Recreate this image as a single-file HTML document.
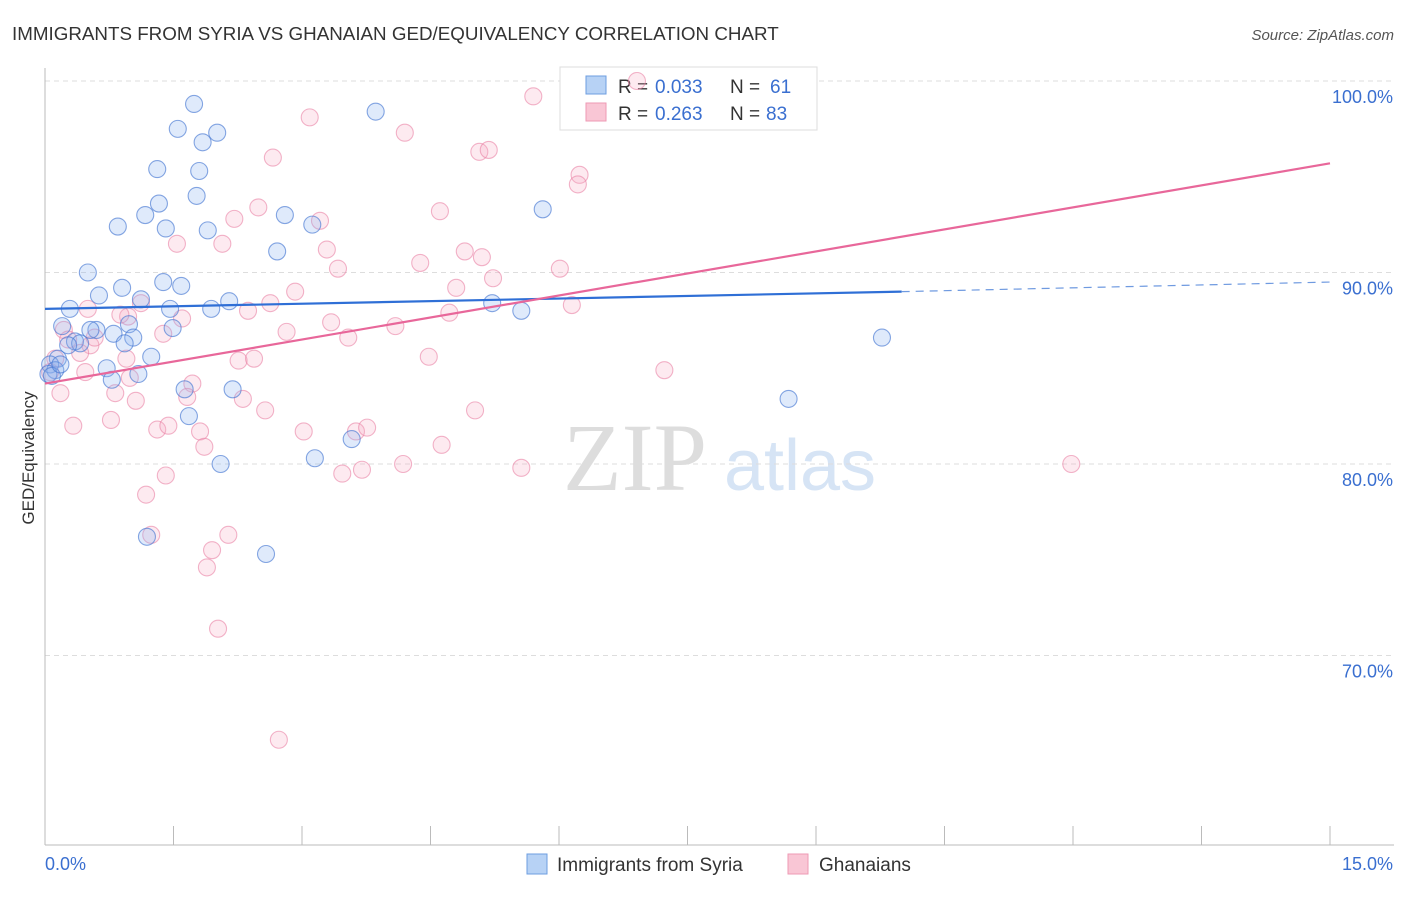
<!DOCTYPE html>
<html><head><meta charset="utf-8"><style>
body{margin:0;background:#fff;font-family:"Liberation Sans",sans-serif}
</style></head><body>
<svg id="chart" width="1406" height="892" xmlns="http://www.w3.org/2000/svg" style="font-family:'Liberation Sans',sans-serif">
<text x="12" y="40" font-size="18.8" fill="#333">IMMIGRANTS FROM SYRIA VS GHANAIAN GED/EQUIVALENCY CORRELATION CHART</text>
<text x="1394" y="40" font-size="15" fill="#555" text-anchor="end" font-style="italic">Source: ZipAtlas.com</text>
<text transform="translate(34,458) rotate(-90)" font-size="17" fill="#333" text-anchor="middle">GED/Equivalency</text>
<g>
<text x="635" y="490" font-size="96" fill="#ddd" font-family="Liberation Serif" text-anchor="middle">ZIP</text>
<text x="800" y="490" font-size="72" fill="#d6e4f5" text-anchor="middle">atlas</text>
</g>
<g id="grid"></g>
<g>
<rect x="560" y="67" width="257" height="63" fill="#fff" stroke="#ddd"/>
<rect x="586" y="76" width="20" height="18" fill="#b7d2f5" stroke="#6d9ee0"/>
<rect x="586" y="103" width="20" height="18" fill="#f9c6d5" stroke="#ee9ab4"/>
<text x="618" y="93" font-size="19" fill="#333">R =</text>
<text x="655" y="93" font-size="19" fill="#3a6fd0">0.033</text>
<text x="730" y="93" font-size="19" fill="#333">N =</text>
<text x="770" y="93" font-size="19" fill="#3a6fd0">61</text>
<text x="618" y="120" font-size="19" fill="#333">R =</text>
<text x="655" y="120" font-size="19" fill="#3a6fd0">0.263</text>
<text x="730" y="120" font-size="19" fill="#333">N =</text>
<text x="766" y="120" font-size="19" fill="#3a6fd0">83</text>
</g>
<g id="marks"></g><g id="lines"></g>
<g>
<rect x="527" y="854" width="20" height="20" fill="#b7d2f5" stroke="#6d9ee0"/>
<text x="557" y="871" font-size="19" fill="#333">Immigrants from Syria</text>
<rect x="788" y="854" width="20" height="20" fill="#f9c6d5" stroke="#ee9ab4"/>
<text x="819" y="871" font-size="19" fill="#333">Ghanaians</text>
</g>
</svg>
<script>
const yTicks=[100,90,80,70];
const yTickLabels=["100.0%","90.0%","80.0%","70.0%"];
const xEndLabels=["0.0%","15.0%"];
const syriaX=[1.74,1.55,2.01,1.84,1.31,1.80,1.33,1.77,1.17,0.85,1.41,1.90,2.80,3.12,2.71,3.86,5.81,0.50,1.38,1.59,0.90,0.63,1.12,0.29,1.46,1.94,2.15,5.22,5.56,0.20,0.60,0.98,0.80,1.03,1.49,0.35,0.41,0.93,1.24,0.15,0.06,0.12,0.04,0.08,0.72,0.78,1.09,1.63,2.19,1.68,3.58,3.15,2.05,1.19,2.58,9.77,8.68,0.18,0.53,0.27];
const syriaY=[98.8,97.5,97.3,96.8,95.4,95.3,93.6,94.0,93.0,92.4,92.3,92.2,93.0,92.5,91.1,98.4,93.3,90.0,89.5,89.3,89.2,88.8,88.6,88.1,88.1,88.1,88.5,88.4,88.0,87.2,87.0,87.3,86.8,86.6,87.1,86.4,86.3,86.3,85.6,85.5,85.2,84.9,84.7,84.6,85.0,84.4,84.7,83.9,83.9,82.5,81.3,80.3,80.0,76.2,75.3,86.6,83.4,85.2,87.0,86.2];
const ghX=[6.91,5.70,3.09,4.20,2.66,5.07,5.18,6.24,6.22,4.61,2.49,2.21,3.21,1.54,2.07,3.29,4.90,5.10,4.38,3.42,6.01,5.23,2.92,4.80,1.12,0.50,0.97,1.60,2.37,2.63,6.15,4.72,3.34,4.09,2.82,3.54,0.22,0.27,0.53,0.58,0.41,0.95,1.38,2.26,2.44,4.48,7.23,0.99,1.72,1.66,2.31,2.57,1.06,0.77,0.33,1.31,1.44,1.81,3.02,3.63,3.76,5.02,4.63,1.86,4.18,3.47,3.70,5.56,11.98,1.41,1.18,1.24,2.14,1.95,1.89,2.02,2.73,0.12,0.06,0.18,0.88,0.47,0.82];
const ghY=[100.0,99.2,98.1,97.3,96.0,96.3,96.4,95.1,94.6,93.2,93.4,92.8,92.7,91.5,91.5,91.2,91.1,90.8,90.5,90.2,90.2,89.7,89.0,89.2,88.4,88.1,87.7,87.6,88.0,88.4,88.3,87.9,87.4,87.2,86.9,86.6,87.0,86.5,86.2,86.6,85.8,85.5,86.8,85.4,85.5,85.6,84.9,84.5,84.2,83.5,83.4,82.8,83.3,82.3,82.0,81.8,82.0,81.7,81.7,81.7,81.9,82.8,81.0,80.9,80.0,79.5,79.7,79.8,80.0,79.4,78.4,76.3,76.3,75.5,74.6,71.4,65.6,85.5,84.8,83.7,87.8,84.8,83.7];
const syriaTrend=[[0,88.1],[10,89.0]],syriaDash=[[10,89.0],[15,89.5]];
const ghTrend=[[0,84.2],[15,95.7]];
const L=45,R=1330,T=81,B=845;
const sx=v=>L+(v/15)*(R-L);
const sy=v=>T+(100-v)*19.15;
const NS="http://www.w3.org/2000/svg";
function mk(tag,attrs,parent){const e=document.createElementNS(NS,tag);for(const k in attrs)e.setAttribute(k,attrs[k]);parent.appendChild(e);return e;}
const grid=document.getElementById('grid');
yTicks.forEach((t,i)=>{
 const l=mk('line',{x1:L,x2:1394,y1:sy(t),y2:sy(t),stroke:'#ddd','stroke-dasharray':'5,4'},grid);
 
 
 const tx=mk('text',{x:1393,y:sy(t)+22,'font-size':18,fill:'#3a6fd0','text-anchor':'end'},grid);
 tx.textContent=yTickLabels[i];
 
 
});
const ax=mk('line',{x1:L,x2:L,y1:68,y2:B,stroke:'#bbb'},grid);


const bx=mk('line',{x1:L,x2:1394,y1:B,y2:B,stroke:'#bbb'},grid);


for(let i=0;i<=10;i++){const t=mk('line',{x1:sx(i*1.5),x2:sx(i*1.5),y1:826,y2:B,stroke:'#bbb'},grid);
 
 }
[[0,'start'],[15,'end']].forEach((p,i)=>{const t=mk('text',{x:i?1393:45,y:870,'font-size':18,fill:'#3a6fd0','text-anchor':p[1]},grid);t.textContent=xEndLabels[i];
 
 });
const marks=document.getElementById('marks');
function pts(xs,ys,fill,stroke,name){xs.forEach((x,i)=>{const c=mk('circle',{cx:sx(x),cy:sy(ys[i]),r:8.5,fill:fill,stroke:stroke,'stroke-width':1.1},marks);
 
 });}
pts(ghX,ghY,'rgba(246,170,195,0.25)','rgba(234,130,165,0.6)','ghanaian-point');
pts(syriaX,syriaY,'rgba(140,180,240,0.28)','rgba(70,120,210,0.65)','syria-point');
const lines=document.getElementById('lines');
function ln(p,col,w,dash,name){const a={x1:sx(p[0][0]),y1:sy(p[0][1]),x2:sx(p[1][0]),y2:sy(p[1][1]),stroke:col,'stroke-width':w};if(dash)a['stroke-dasharray']=dash;const e=mk('line',a,lines);
 
 }
ln(syriaTrend,'#2f6fd6',2.2,null,'syria-trend-line');
ln(syriaDash,'#6f9ae0',1.2,'8,6','syria-trend-extension');
ln(ghTrend,'#e8679a',2.2,null,'ghanaian-trend-line');
</script>
</body></html>
